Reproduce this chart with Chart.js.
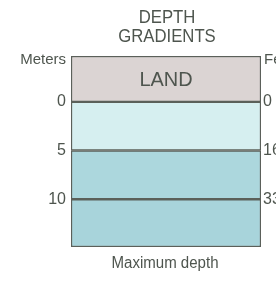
<!DOCTYPE html>
<html><head><meta charset="utf-8">
<script src="https://cdn.jsdelivr.net/npm/chart.js@4"></script>
<style>html,body{margin:0;padding:0;background:#fff;}#wrap{width:276px;height:297px;position:relative;}</style>
</head><body><div id="wrap"><canvas id="c" width="276" height="297"></canvas></div>
<script>
const categories = ['Maximum depth'];
const bandNames = ['LAND', 'Shallow', 'Middle', 'Deep'];
const bandTops = [-4.7, 0, 5, 10];      // meters
const bandBottoms = [0, 5, 10, 14.9];   // meters
const bandColors = ['#dbd4d3', '#d6eff0', '#acd7dd', '#a8d4db'];
const meterTicks = [0, 5, 10];
const meterLabels = ['0', '5', '10'];
const feetLabels = ['0', '16', '33'];
const titleLines = ['DEPTH', 'GRADIENTS'];
const leftAxisTitle = 'Meters';
const rightAxisTitle = 'Feet';

const datasets = bandNames.map((n, i) => ({
  label: n,
  data: [[bandTops[i], bandBottoms[i]]],
  backgroundColor: bandColors[i],
  borderColor: '#5b605a',
  borderWidth: 1.5,
  borderSkipped: false,
  barPercentage: 1,
  categoryPercentage: 1,
  grouped: false
}));

const txt = '#4e554e';
const font = '"Liberation Sans", Arial, sans-serif';

function condensed(ctx, s, x, y, sx) {
  ctx.save();
  ctx.translate(x, y);
  ctx.scale(sx, 1);
  ctx.fillText(s, 0, 0);
  ctx.restore();
}

const textPlugin = {
  id: 'texts',
  afterDatasetsDraw(chart) {
    const ctx = chart.ctx, a = chart.chartArea, y = chart.scales.y;
    ctx.save();
    ctx.fillStyle = txt;
    ctx.textBaseline = 'middle';
    ctx.textAlign = 'center';
    const cx = (a.left + a.right) / 2;
    ctx.font = '19px ' + font;
    condensed(ctx, titleLines[0], cx + 1, 18, 0.88);
    condensed(ctx, titleLines[1], cx + 1, 36.5, 0.88);
    ctx.font = '21px ' + font;
    condensed(ctx, bandNames[0], cx, y.getPixelForValue((bandTops[0] + bandBottoms[0]) / 2) + 1, 0.95);
    ctx.font = '16px ' + font;
    condensed(ctx, categories[0], cx - 1, 264, 0.94);
    ctx.font = '15px ' + font;
    ctx.textAlign = 'right';
    ctx.fillText(leftAxisTitle, a.left - 5, 60);
    ctx.textAlign = 'left';
    ctx.fillText(rightAxisTitle, a.right + 3, 60);
    ctx.restore();
  }
};

new Chart(document.getElementById('c'), {
  type: 'bar',
  data: { labels: categories, datasets },
  options: {
    responsive: false,
    animation: false,
    devicePixelRatio: 1,
    layout: { padding: { top: 56, bottom: 50, left: 0, right: 0 } },
    plugins: { legend: { display: false }, tooltip: { enabled: false }, title: { display: false } },
    scales: {
      x: { display: false, stacked: false },
      y: {
        position: 'left', reverse: true, min: bandTops[0], max: bandBottoms[3],
        afterBuildTicks: s => { s.ticks = meterTicks.map(v => ({ value: v })); },
        afterFit: s => { s.width = 71; },
        grid: { display: false, drawTicks: false }, border: { display: false },
        ticks: { padding: 5, color: txt, font: { size: 16, family: font },
          callback: (v) => meterLabels[meterTicks.indexOf(v)] }
      },
      y2: {
        position: 'right', reverse: true, min: bandTops[0], max: bandBottoms[3],
        afterBuildTicks: s => { s.ticks = meterTicks.map(v => ({ value: v })); },
        afterFit: s => { s.width = 15; },
        grid: { display: false, drawTicks: false }, border: { display: false },
        ticks: { padding: 2, color: txt, font: { size: 16, family: font },
          callback: (v) => feetLabels[meterTicks.indexOf(v)] }
      }
    }
  },
  plugins: [textPlugin]
});
</script></body></html>
